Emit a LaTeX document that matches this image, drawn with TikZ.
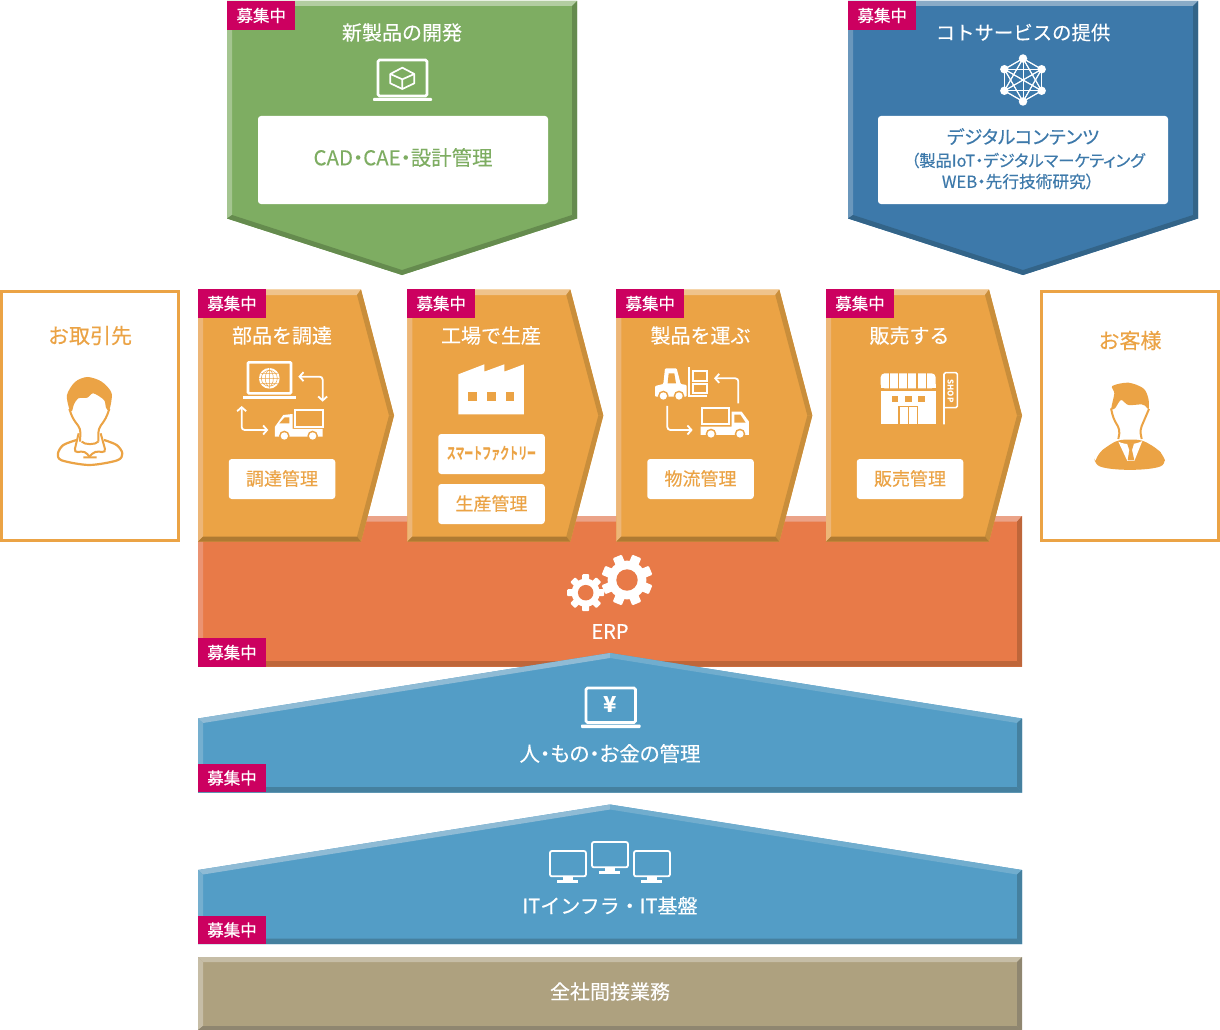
\documentclass[tikz,border=0pt]{standalone}
\usepackage{fontspec}
\setmainfont{Noto Sans CJK JP}[UprightFeatures={FakeBold=.25}]
\newfontfamily\paltfont{Noto Sans CJK JP}[RawFeature=+palt, UprightFeatures={FakeBold=.25}]
\usetikzlibrary{arrows.meta}
\definecolor{hiring}{HTML}{CC0060}
\definecolor{amber}{HTML}{EBA345}
\definecolor{amberlight}{HTML}{EFC38B}
\definecolor{amberleft}{HTML}{EDB677}
\definecolor{amberright}{HTML}{C98E3B}
\definecolor{amberlow}{HTML}{AF7A32}
\definecolor{leaf}{HTML}{7EAD62}
\definecolor{leaflight}{HTML}{B2CDA1}
\definecolor{leafleft}{HTML}{A4C590}
\definecolor{leafdark}{HTML}{658B4E}
\definecolor{ocean}{HTML}{3D79AA}
\definecolor{oceanlight}{HTML}{8AABC7}
\definecolor{oceanleft}{HTML}{6A97BC}
\definecolor{oceandark}{HTML}{336488}
\definecolor{rust}{HTML}{E87A48}
\definecolor{rustlight}{HTML}{EBA388}
\definecolor{rustleft}{HTML}{EB9372}
\definecolor{rustdark}{HTML}{BE663A}
\definecolor{sky}{HTML}{539DC6}
\definecolor{skylight}{HTML}{8FBBD5}
\definecolor{skyright}{HTML}{71ADCE}
\definecolor{skyleft}{HTML}{75AFCF}
\definecolor{skydark}{HTML}{45809F}
\definecolor{sand}{HTML}{AEA17F}
\definecolor{sandlight}{HTML}{C6BDA6}
\definecolor{sanddark}{HTML}{8F8670}
\tikzset{
    tagbox/.style={fill=hiring, text=white, minimum width=68pt, minimum height=28.4pt, inner sep=0pt, font=\fontsize{16.5}{16}\selectfont},
    titletext/.style={text=white, inner sep=0pt, font=\fontsize{20}{24}\selectfont},
    whitebox/.style={fill=white, rounded corners=3pt, inner sep=0pt},
    sidebox/.style={draw=amber, line width=3pt, fill=white, inner sep=0pt, minimum width=177pt, minimum height=249pt},
    icoline/.style={draw=white, line width=1.7pt, line join=round},
    icoarrow/.style={white, line width=1.8pt, rounded corners=3pt},
    zoomed/.style={x=.3333pt, y=-.3333pt},
}
\newcommand{\arrowpanel}[1]{%
    \begin{scope}[shift={(#1,0)}]
        \fill[amber] (0,289.5) -- (163,289.5) -- (196,415.5) -- (163,541.7) -- (0,541.7) -- cycle;
        \fill[amberlight] (0,289.5) -- (163,289.5) -- (159,295) -- (5,295) -- cycle;
        \fill[amberleft] (0,289.5) -- (5,295) -- (5,536.5) -- (0,541.7) -- cycle;
        \fill[amberright] (163,289.5) -- (196,415.5) -- (191,415.5) -- (159,295) -- cycle;
        \fill[amberright] (163,541.7) -- (196,415.5) -- (191,415.5) -- (159,536.5) -- cycle;
        \fill[amberlow] (0,541.7) -- (163,541.7) -- (159,536.5) -- (5,536.5) -- cycle;
    \end{scope}}
\newcommand{\downpanel}[5]{%
    \begin{scope}[shift={(#1,0)}]
        \fill[#2] (0,1) -- (350,1) -- (350,218.5) -- (175,275) -- (0,218.5) -- cycle;
        \fill[#3] (0,1) -- (350,1) -- (345,6) -- (5,6) -- cycle;
        \fill[#4] (0,1) -- (5,6) -- (5,215) -- (0,218.5) -- cycle;
        \fill[#5] (350,1) -- (345,6) -- (345,215) -- (350,218.5) -- cycle;
        \fill[#5] (0,218.5) -- (5,215) -- (175,270) -- (175,275) -- cycle;
        \fill[#5] (350,218.5) -- (345,215) -- (175,270) -- (175,275) -- cycle;
    \end{scope}}
\newcommand{\housepanel}[1]{%
    \begin{scope}[shift={(0,#1)}]
        \fill[sky] (198,65.5) -- (610,0) -- (1022,65.5) -- (1022,139.5) -- (198,139.5) -- cycle;
        \fill[skylight] (198,65.5) -- (610,0) -- (610,5) -- (203,70) -- cycle;
        \fill[skyright] (1022,65.5) -- (610,0) -- (610,5) -- (1017,70) -- cycle;
        \fill[skyleft] (198,65.5) -- (203,70) -- (203,134) -- (198,139.5) -- cycle;
        \fill[skydark] (1022,65.5) -- (1017,70) -- (1017,134) -- (1022,139.5) -- cycle;
        \fill[skydark] (198,139.5) -- (203,134) -- (1017,134) -- (1022,139.5) -- cycle;
    \end{scope}}
\newcommand{\laptopicon}[5]{%
    \draw[draw=white, line width=2.6pt, rounded corners=1.5pt] (#1,#2) rectangle (#3,#4);
    \fill[white, rounded corners=.8pt] ({#1-5},{#4+2}) rectangle ({#3+5},#5);}
\newcommand{\gearicon}[5]{%
    \begin{scope}[shift={(#1,#2)}]
        \fill[white] (0,0) circle ({#3*.76});
        \foreach \ang in {0,45,...,315} {
            \fill[white, rounded corners=1pt, rotate=\ang+#4] ({#3*.6},{-#3*.19}) rectangle (#3,{#3*.19});
        }
        \fill[#5] (0,0) circle ({#3*.42});
    \end{scope}}
\begin{document}
\begin{tikzpicture}[x=1pt, y=-1pt]
    \useasboundingbox (0,0) rectangle (1220,1030);
    % panels
    \downpanel{227}{leaf}{leaflight}{leafleft}{leafdark}
    \downpanel{848}{ocean}{oceanlight}{oceanleft}{oceandark}
    \fill[rust] (198,516) rectangle (1022,666.7);
    \fill[rustlight] (198,516) -- (1022,516) -- (1017,521.7) -- (203,521.7) -- cycle;
    \fill[rustleft] (198,516) -- (203,521.7) -- (203,661) -- (198,666.7) -- cycle;
    \fill[rustdark] (1022,516) -- (1017,521.7) -- (1017,661) -- (1022,666.7) -- cycle;
    \fill[rustdark] (198,666.7) -- (203,661) -- (1017,661) -- (1022,666.7) -- cycle;
    \arrowpanel{198}
    \arrowpanel{407.3}
    \arrowpanel{616.3}
    \arrowpanel{826}
    \housepanel{653}
    \housepanel{804.5}
    \fill[sand] (198,957) rectangle (1022,1030);
    \fill[sandlight] (198,957) -- (1022,957) -- (1017,962) -- (203,962) -- cycle;
    \fill[sandlight] (198,957) -- (203,962) -- (203,1026) -- (198,1030) -- cycle;
    \fill[sanddark] (1022,957) -- (1017,962) -- (1017,1026) -- (1022,1030) -- cycle;
    \fill[sanddark] (198,1030) -- (203,1026) -- (1017,1026) -- (1022,1030) -- cycle;
    % nodes
    \node[sidebox] (partner) at (90,415.8) {};
    \node[sidebox] (customer) at (1130,415.8) {};
    \node[text=amber, font=\fontsize{21}{24}\selectfont, inner sep=0pt] (partnertext) at (90,335.5) {お取引先};
    \node[text=amber, font=\fontsize{21}{24}\selectfont, inner sep=0pt] (customertext) at (1130,340.5) {お客様};
    \node[titletext] (newproduct) at (402,32.5) {新製品の開発};
    \node[titletext] (service) at (1023,32.5) {\fontsize{19.4}{24}\selectfont コトサービスの提供};
    \node[whitebox, minimum width=290pt, minimum height=88pt] (cad) at (403,160) {};
    \node[text=leaf, inner sep=0pt, font=\fontsize{20.4}{24}\selectfont\paltfont] (cadtext) at (403,157.5) {CAD・CAE・設計管理};
    \node[whitebox, minimum width=290pt, minimum height=88pt] (digital) at (1023,160) {};
    \node[text=ocean, inner sep=0pt, font=\fontsize{18.5}{22}\selectfont\paltfont] (digitalone) at (1023,136.5) {デジタルコンテンツ};
    \node[text=ocean, inner sep=0pt, font=\fontsize{16.3}{20}\selectfont\paltfont] (digitaltwo) at (1028,160.5) {（製品IoT・デジタルマーケティング};
    \node[text=ocean, inner sep=0pt, font=\fontsize{16.7}{20}\selectfont\paltfont] (digitalthree) at (1018,181.5) {WEB・先行技術研究）};
    \node[titletext] (parts) at (282,335.5) {部品を調達};
    \node[titletext] (factory) at (491,335.5) {工場で生産};
    \node[titletext] (carry) at (700.5,335.5) {製品を運ぶ};
    \node[titletext] (sell) at (909.5,335.5) {販売する};
    \foreach \boxname/\cx/\cy/\boxtext in {partsbox/282/479/調達管理, prodbox/491.5/504/生産管理, logibox/700.5/479/物流管理, salesbox/910/479/販売管理} {
        \node[whitebox, minimum width=106.5pt, minimum height=40pt] (\boxname) at (\cx,\cy) {};
        \node[text=amber, inner sep=0pt, font=\fontsize{18}{22}\selectfont] (\boxname text) at (\cx,\cy-.5) {\boxtext};
    }
    \node[whitebox, minimum width=106.5pt, minimum height=40pt, text=amber, font=\fontsize{16}{20}\selectfont\bfseries] (smartbox) at (491.5,454) {\scalebox{.56}[1]{スマートファクトリー}};
    \node[titletext] (erp) at (610,631.5) {ERP};
    \node[titletext, font=\fontsize{20.5}{24}\selectfont\paltfont] (money) at (610,753.5) {人・もの・お金の管理};
    \node[titletext] (infra) at (610,905.5) {ITインフラ・IT基盤};
    \node[titletext] (office) at (610,991.5) {全社間接業務};
    \foreach \tagname/\cx/\cy in {tagnew/261.2/15.5, tagservice/882.2/15.5, tagparts/232/303.5, tagfactory/441.3/303.5, tagcarry/650.3/303.5, tagsell/860/303.5, tagerp/232/652.5, tagmoney/232/778, taginfra/232/930} {
        \node[tagbox] (\tagname) at (\cx,\cy) {募集中};
    }
    % icons
    \laptopicon{378}{60}{427}{96}{101}
    \begin{scope}[shift={(220,0)}, zoomed]
        \draw[icoline] (547,203) -- (583,222) -- (583,250) -- (547,267) -- (511,250) -- (511,222) -- cycle;
        \draw[icoline] (511,222) -- (547,238) -- (583,222) (547,238) -- (547,267);
    \end{scope}
    \begin{scope}[shift={(1023,80)}]
        \foreach \ang [count=\i] in {90,30,-30,-90,-150,150} {
            \node[circle, fill=white, minimum size=8.5pt, inner sep=0pt] (net\i) at ({\ang}:{21.5}) {};
        }
        \foreach \i in {1,...,6} \foreach \j in {1,...,6} {
            \draw[white, line width=1pt] (net\i.center) -- (net\j.center);
        }
    \end{scope}
    \begin{scope}[shift={(190,280)}, zoomed]
        % laptop and truck
        \draw[white, line width=2.6pt, rounded corners=1pt] (174,247) rectangle (303,340);
        \fill[white] (160,348) rectangle (317,356);
        \fill[white] (238,295) circle (31);
        \draw[amber, line width=.5pt] (238,295) circle (24) (238,295) ellipse (12 and 24) (238,264) -- (238,326) (207,295) -- (269,295) (213,280) -- (263,280) (213,310) -- (263,310);
        \draw[icoarrow, {Straight Barb[length=4pt,width=9pt]}-{Straight Barb[length=4pt,width=9pt]}] (325,290) -- (398,290) -- (398,365);
        \draw[icoarrow, {Straight Barb[length=4pt,width=9pt]}-{Straight Barb[length=4pt,width=9pt]}] (155,378) -- (155,450) -- (235,450);
        \draw[white, line width=2pt] (315,391) rectangle (398,441);
        \fill[white] (255,470) -- (255,440) -- (280,405) -- (308,402) -- (308,447) -- (398,447) -- (398,470) -- cycle;
        \fill[amber] (268,430) -- (284,412) -- (298,412) -- (298,430) -- cycle;
        \foreach \cx in {283,368} {
            \fill[amber] (\cx,468) circle (16);
            \fill[white] (\cx,468) circle (11);
        }
        % factory
        \fill[white] (805,283) -- (883,253) -- (883,275) -- (943,253) -- (943,275) -- (1002,253) -- (1002,403) -- (805,403) -- cycle;
        \foreach \cx in {835,891,947} {
            \fill[amber] (\cx,337) rectangle ++(26,25);
        }
    \end{scope}
    \begin{scope}[shift={(610,280)}, zoomed]
        % forklift and truck
        \fill[white, rounded corners=1pt] (135,350) -- (135,318) -- (160,312) -- (165,265) -- (200,265) -- (212,312) -- (230,315) -- (230,350) -- cycle;
        \fill[amber] (176,280) -- (193,280) -- (198,310) -- (173,310) -- cycle;
        \foreach \cx in {160,207} {
            \fill[amber] (\cx,348) circle (16);
            \fill[white] (\cx,348) circle (11);
        }
        \draw[white, line width=1.8pt] (238,262) -- (238,348) -- (290,348);
        \draw[white, line width=1.8pt] (250,274) rectangle (290,303) (250,313) rectangle (290,338);
        \draw[icoarrow, -{Straight Barb[length=4pt,width=9pt]}] (385,370) -- (385,295) -- (312,295);
        \draw[icoarrow, -{Straight Barb[length=4pt,width=9pt]}] (172,378) -- (172,450) -- (248,450);
        \draw[white, line width=2pt] (275,385) rectangle (358,433);
        \fill[white] (272,440) -- (365,440) -- (365,395) -- (395,395) -- (417,425) -- (417,465) -- (272,465) -- cycle;
        \fill[amber] (373,404) -- (391,404) -- (407,428) -- (373,428) -- cycle;
        \foreach \cx in {303,390} {
            \fill[amber] (\cx,462) circle (16);
            \fill[white] (\cx,462) circle (11);
        }
        % shop
        \fill[white, rounded corners=4pt] (812,325) -- (812,280) -- (977,280) -- (977,325) -- cycle;
        \fill[white] (812,312) rectangle (977,325);
        \foreach \cx in {838,865,893,921,949} {
            \draw[amber, line width=1.5pt] (\cx,278) -- (\cx,326);
        }
        \fill[white] (812,332) rectangle (977,433);
        \foreach \cx in {845,885,925} {
            \fill[amber] (\cx,348) rectangle ++(20,19);
        }
        \draw[amber, line width=1.4pt] (867,433) -- (867,380) -- (923,380) -- (923,433) (895,380) -- (895,433);
        \draw[white, line width=1.6pt, rounded corners=1.5pt] (1002,433) -- (1002,278) -- (1042,278) -- (1042,383) -- (1002,383);
        \node[text=white, rotate=-90, inner sep=0pt, font=\fontsize{8}{8}\selectfont\bfseries] (shoptext) at (1022,333) {SHOP};
    \end{scope}
    \gearicon{627}{580}{25.5}{22.5}{rust}
    \gearicon{585.7}{592.7}{18.5}{0}{rust}
    \laptopicon{586}{688}{635.5}{722.5}{728}
    \node[text=white, inner sep=0pt, font=\fontsize{22}{22}\selectfont\bfseries] (yen) at (610.5,705) {¥};
    \begin{scope}[shift={(190,800)}, zoomed]
        \foreach \dx/\dy in {0/0, 126/-27, 252/0} {
            \begin{scope}[shift={(\dx,\dy)}]
                \draw[white, line width=1.8pt, rounded corners=2pt] (1080,153) rectangle (1188,229);
                \fill[white] (1118,232) rectangle (1148,241);
                \fill[white] (1102,241) rectangle (1165,248);
            \end{scope}
        }
    \end{scope}
    % people
    \begin{scope}[shift={(0,285)}, zoomed]
        \fill[amber] plot[smooth cycle] coordinates {(208,372) (201,330) (225,291) (262,276) (305,290) (335,325) (328,375) (318,368) (312,345) (280,325) (262,338) (235,340) (222,358) (216,378)};
        \draw[amber, line width=2pt, rounded corners=4pt] (208,372) -- (218,400) -- (242,432) -- (240,470) (328,372) -- (318,400) -- (295,432) -- (295,470);
        \draw[amber, line width=2pt, rounded corners=4pt] (236,445) -- (222,503) -- (255,498) -- (268,515) (302,445) -- (318,503) -- (285,498) -- (268,515);
        \draw[amber, line width=2pt] (245,470) .. controls (255,480) and (285,480) .. (295,470) (250,517) -- (290,517);
        \draw[amber, line width=2.2pt] plot[smooth] coordinates {(230,465) (190,480) (174,505) (185,526) (268,540) (352,526) (367,505) (350,480) (312,465)};
    \end{scope}
    \begin{scope}[shift={(1035,285)}, zoomed]
        \fill[amber] plot[smooth cycle] coordinates {(229,370) (238,325) (232,303) (280,293) (325,310) (340,340) (341,372) (330,362) (320,358) (280,360) (258,345) (240,370)};
        \draw[amber, line width=2pt, rounded corners=4pt] (228,370) -- (235,400) -- (255,435) -- (250,462) (342,372) -- (330,400) -- (315,435) -- (320,462);
        \fill[amber, rounded corners=6pt] (178,538) -- (190,505) -- (215,485) -- (250,464) -- (320,464) -- (365,490) -- (385,510) -- (393,538) .. controls (340,558) and (230,558) .. (178,538) -- cycle;
        \fill[white] (250,470) .. controls (270,480) and (300,480) .. (322,468) -- (298,528) -- (277,528) -- cycle;
        \fill[amber] (276,475) -- (297,475) -- (291,495) -- (298,526) -- (278,526) -- (283,495) -- cycle;
    \end{scope}
\end{tikzpicture}
\end{document}
